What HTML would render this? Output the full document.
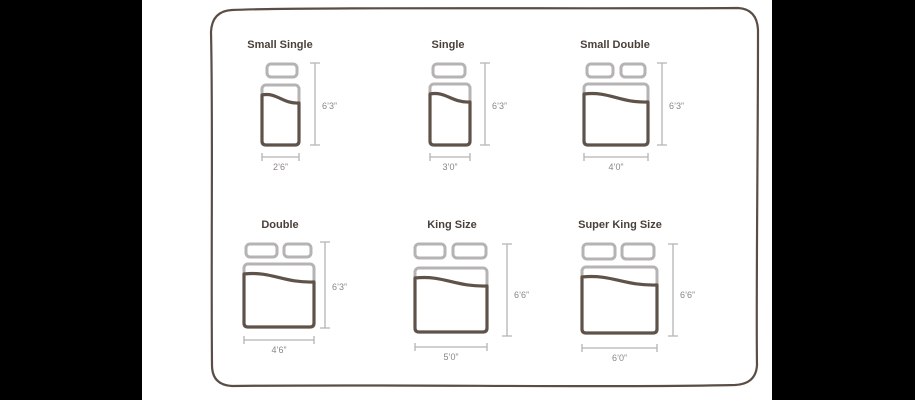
<!DOCTYPE html>
<html><head><meta charset="utf-8"><style>
html,body{margin:0;padding:0;background:#000;}
svg{display:block}
text{font-family:"Liberation Sans",sans-serif;}
</style></head><body>
<svg id="s" width="915" height="400" viewBox="0 0 915 400" xmlns="http://www.w3.org/2000/svg">
<rect x="142" y="0" width="630" height="400" fill="#fff"/>
<path d="M232,10 C300,7 600,9 738,8 Q757,9 758,30 C758,150 756,300 757,365 Q756,384 735,385 C600,388 400,384 232,386 Q212,385 212,365 C211,250 213,120 211,32 Q212,11 232,10 Z" fill="none" stroke="#5a4d45" stroke-width="2.2"/>
</svg>
<script>
var s=document.getElementById('s'),h='';
var G='#b5b3b4',B='#5e5249';
function bed(t,tx,ty,pl,py,ph,bx,by,bw,bh,vx,vy1,vy2,vl,vly,wy,wl,wly){
 h+='<text x="'+tx+'" y="'+ty+'" font-size="11" font-weight="bold" fill="#4a403a" text-anchor="middle">'+t+'</text>';
 pl.forEach(function(p){h+='<rect x="'+p[0]+'" y="'+py+'" width="'+(p[1]-p[0])+'" height="'+ph+'" rx="4" fill="none" stroke="'+G+'" stroke-width="3"/>';});
 h+='<rect x="'+bx+'" y="'+by+'" width="'+bw+'" height="'+bh+'" rx="4" fill="none" stroke="'+G+'" stroke-width="3"/>';
 var t0=by+10,t1=by+18,b=by+bh;
 h+='<path d="M'+bx+','+(b-4)+' L'+bx+','+t0+' C'+(bx+bw*0.4)+','+(t0-3)+' '+(bx+bw*0.55)+','+(t1+1)+' '+(bx+bw)+','+t1+' L'+(bx+bw)+','+(b-4)+' Q'+(bx+bw)+','+b+' '+(bx+bw-4)+','+b+' L'+(bx+4)+','+b+' Q'+bx+','+b+' '+bx+','+(b-4)+'" fill="#fff" stroke="'+B+'" stroke-width="3.2" stroke-linejoin="round"/>';
 h+='<path d="M'+vx+','+vy1+'V'+vy2+'M'+(vx-5)+','+vy1+'h10M'+(vx-5)+','+vy2+'h10" stroke="'+G+'" stroke-width="1.3" fill="none"/>';
 h+='<text x="'+(vx+7)+'" y="'+vly+'" font-size="9" fill="#8a8682">'+vl+'</text>';
 h+='<path d="M'+bx+','+wy+'H'+(bx+bw)+'M'+bx+','+(wy-4)+'v8M'+(bx+bw)+','+(wy-4)+'v8" stroke="'+G+'" stroke-width="1.3" fill="none"/>';
 h+='<text x="'+(bx+bw/2)+'" y="'+wly+'" font-size="9" fill="#8a8682" text-anchor="middle">'+wl+'</text>';
}
bed('Small Single',280,48,[[267,297]],64,13,262,85,37,60,315,63,145,'6\u20193\u201d',109,157,'2\u20196\u201d',170);
bed('Single',448,48,[[433,465]],64,13,430,84,40,61,485,63,145,'6\u20193\u201d',109,157,'3\u20190\u201d',170);
bed('Small Double',615,48,[[587,613],[621,645]],64,13,584,84,64,61,662,63,145,'6\u20193\u201d',109,157,'4\u20190\u201d',170);
bed('Double',280,228,[[246,277],[284,311]],244,13,244,264,70,63,325,242,328,'6\u20193\u201d',290,340,'4\u20196\u201d',353);
bed('King Size',452,228,[[415,445],[453,486]],244,14,415,268,72,64,507,244,336,'6\u20196\u201d',298,347,'5\u20190\u201d',360);
bed('Super King Size',620,228,[[583,615],[622,654]],244,15,582,267,75,66,673,244,336,'6\u20196\u201d',298,348,'6\u20190\u201d',361);
s.insertAdjacentHTML('beforeend',h);
</script>
</body></html>
